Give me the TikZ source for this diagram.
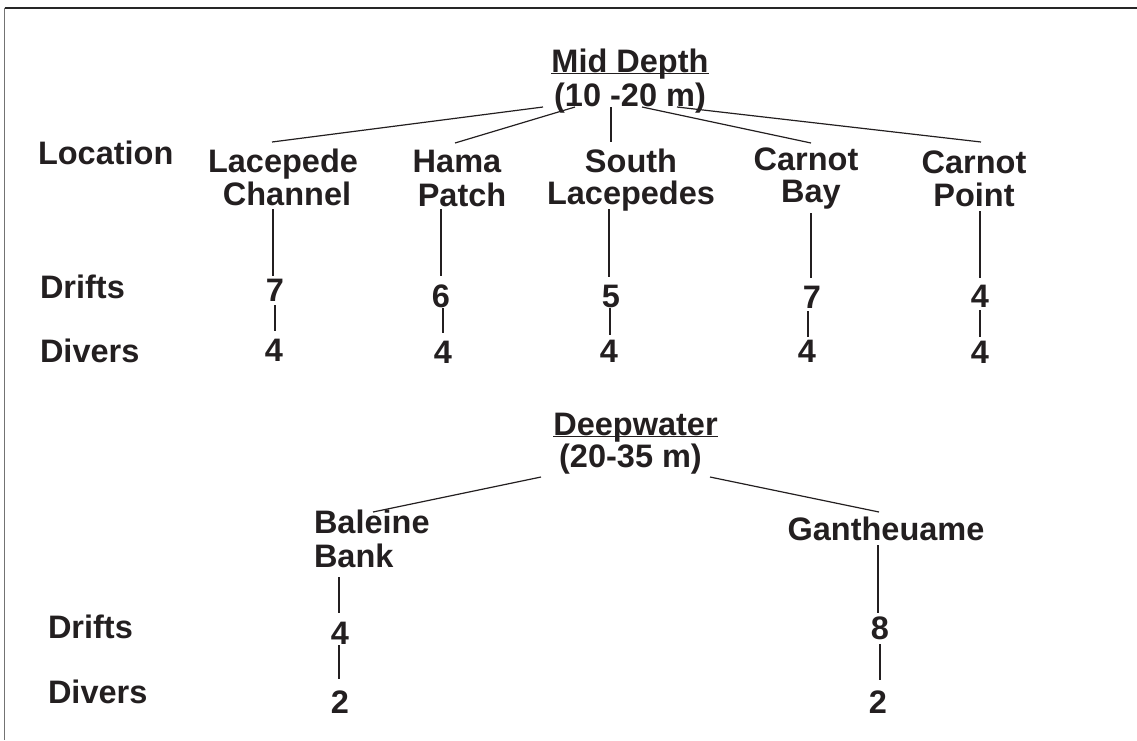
\documentclass[tikz,border=0pt]{standalone}
\usepackage{fontspec}
\setmainfont{Liberation Sans}
\usetikzlibrary{calc}
\definecolor{ink}{RGB}{35,31,32}
\begin{document}
\begin{tikzpicture}[x=1pt,y=-1pt,
  txt/.style={inner sep=0pt, outer sep=0pt, font=\fontsize{32.5}{36}\selectfont\bfseries, text=ink, anchor=base},
  lft/.style={txt, anchor=base west},
  conn/.style={draw=ink, line width=1.2pt},
  uline/.style={draw=ink, line width=1.5pt}]
\useasboundingbox (0,0) rectangle (1137,740);
% frame (top and left edges)
\draw[black!85, line width=2pt] (4.5,7.5) -- (1137,7.5);
\draw[black!55, line width=1.5pt] (4.5,7.5) -- (4.5,740);

% ---------- Mid depth ----------
\node[txt] (mid1) at (630,72) {Mid Depth};
\node[txt] (mid2) at (630,106) {(10 -20 m)};
\draw[uline] ($(mid1.base west)+(0,1.5)$) -- ($(mid1.base east)+(0,1.5)$);

\node[lft] (loc) at (38,164) {Location};
\node[txt] (lc1) at (283,172) {Lacepede};
\node[txt] (lc2) at (287,205) {Channel};
\node[txt] (hp1) at (457,172) {Hama};
\node[txt] (hp2) at (462,206) {Patch};
\node[txt] (sl1) at (631,172) {South};
\node[txt] (sl2) at (631,204) {Lacepedes};
\node[txt] (cb1) at (806,170) {Carnot};
\node[txt] (cb2) at (811,202) {Bay};
\node[txt] (cp1) at (974,173) {Carnot};
\node[txt] (cp2) at (974,206) {Point};

\node[lft] (dr1) at (40,298) {Drifts};
\node[lft] (dv1) at (40,362) {Divers};
\node[txt] (d1) at (275,301) {7};
\node[txt] (d2) at (441,307) {6};
\node[txt] (d3) at (611,307) {5};
\node[txt] (d4) at (812,308) {7};
\node[txt] (d5) at (980,307) {4};
\node[txt] (v1) at (274,361) {4};
\node[txt] (v2) at (443,363) {4};
\node[txt] (v3) at (609,362) {4};
\node[txt] (v4) at (807,362) {4};
\node[txt] (v5) at (980,363) {4};

\draw[conn] ($(mid2.base)+(-87,1)$) -- ($(lc1.base)+(-11,-30)$);
\draw[conn] ($(mid2.base)+(-55,1)$) -- ($(hp1.base)+(-2,-29)$);
\draw[conn] ($(mid2.base)+(-19,1)$) -- ($(sl1.base)+(-20,-30)$);
\draw[conn] ($(mid2.base)+(12,1)$) -- ($(cb1.base)+(5,-27)$);
\draw[conn] ($(mid2.base)+(47,1)$) -- ($(cp1.base)+(7,-31)$);

\draw[conn] ($(lc2.base)+(-14,4)$) -- ($(d1.base)+(-2,-25)$);
\draw[conn] ($(d1.base)+(0,4)$) -- ($(v1.base)+(1,-30)$);
\draw[conn] ($(hp2.base)+(-21,3)$) -- ($(d2.base)+(0,-31)$);
\draw[conn] ($(d2.base)+(2,1)$) -- ($(v2.base)+(0,-30)$);
\draw[conn] ($(sl2.base)+(-22,5)$) -- ($(d3.base)+(-2,-30)$);
\draw[conn] ($(d3.base)+(-1,1)$) -- ($(v3.base)+(1,-27)$);
\draw[conn] ($(cb2.base)+(0,11)$) -- ($(d4.base)+(-1,-30)$);
\draw[conn] ($(d4.base)+(-4,3)$) -- ($(v4.base)+(1,-25)$);
\draw[conn] ($(cp2.base)+(6,5)$) -- ($(d5.base)+(0,-29)$);
\draw[conn] ($(d5.base)+(0,3)$) -- ($(v5.base)+(0,-26)$);

% ---------- Deepwater ----------
\node[txt] (dw1) at (635.5,435) {Deepwater};
\node[txt] (dw2) at (630.5,467) {(20-35 m)};
\draw[uline] ($(dw1.base west)+(0,1.5)$) -- ($(dw1.base east)+(0,1.5)$);

\node[lft] (bb1) at (314,533) {Baleine};
\node[lft] (bb2) at (314,567) {Bank};
\node[txt] (ga) at (886,540) {Gantheuame};

\node[lft] (dr2) at (48,638) {Drifts};
\node[lft] (dv2) at (48,703) {Divers};
\node[txt] (bd) at (340,644) {4};
\node[txt] (bv) at (340,713) {2};
\node[txt] (gd) at (880,639) {8};
\node[txt] (gv) at (878,713) {2};

\draw[conn] ($(dw2.base)+(-89.5,10)$) -- ($(bb1.base west)+(59,-21)$);
\draw[conn] ($(dw2.base)+(79.5,10)$) -- ($(ga.base)+(-7,-28)$);
\draw[conn] ($(bb2.base west)+(25,10)$) -- ($(bd.base)+(-1,-31)$);
\draw[conn] ($(bd.base)+(-1,1)$) -- ($(bv.base)+(-1,-34)$);
\draw[conn] ($(ga.base)+(-8,5)$) -- ($(gd.base)+(-2,-26)$);
\draw[conn] ($(gd.base)+(0,5)$) -- ($(gv.base)+(2,-33)$);
\end{tikzpicture}
\end{document}
